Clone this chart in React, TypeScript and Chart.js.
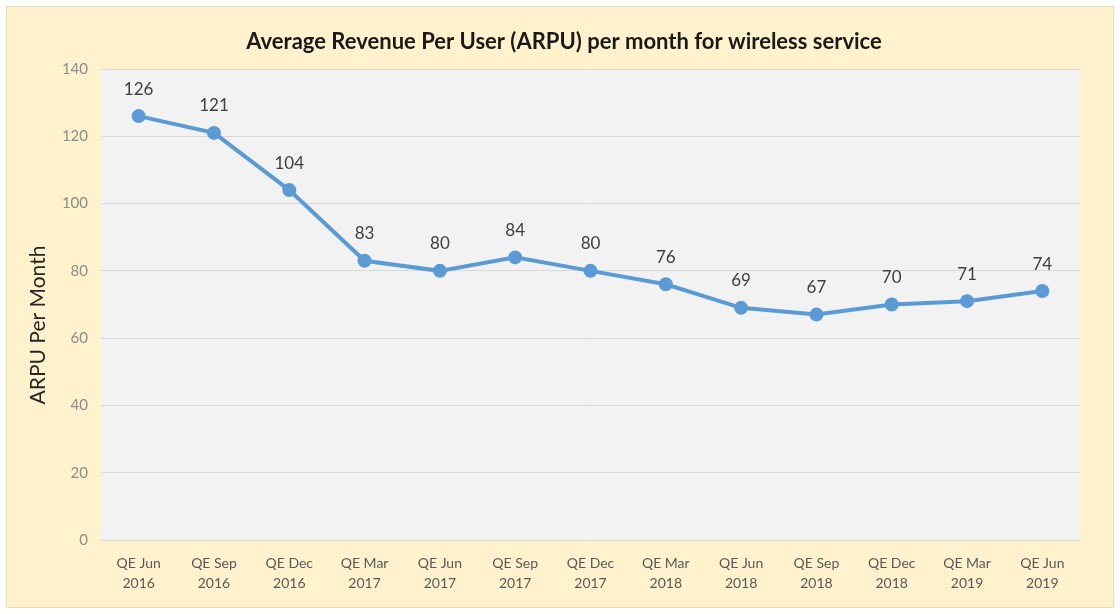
import React, { useEffect, useRef } from "react";
import { Chart, registerables } from "chart.js";

Chart.register(...registerables);

const quarters: string[][] = [
  ["QE Jun", "2016"], ["QE Sep", "2016"], ["QE Dec", "2016"], ["QE Mar", "2017"],
  ["QE Jun", "2017"], ["QE Sep", "2017"], ["QE Dec", "2017"], ["QE Mar", "2018"],
  ["QE Jun", "2018"], ["QE Sep", "2018"], ["QE Dec", "2018"], ["QE Mar", "2019"],
  ["QE Jun", "2019"],
];
const arpu: number[] = [126, 121, 104, 83, 80, 84, 80, 76, 69, 67, 70, 71, 74];
const chartTitle = "Average Revenue Per User (ARPU) per month for wireless service";
const yAxisTitle = "ARPU Per Month";

const FONT = "Lato, 'Noto Sans', sans-serif";

const backgroundPlugin = {
  id: "bgPlugin",
  beforeDraw(chart: any) {
    const { ctx, chartArea } = chart;
    ctx.save();
    ctx.fillStyle = "#ffffff";
    ctx.fillRect(0, 0, chart.width, chart.height);
    ctx.fillStyle = "#FFF2CC";
    ctx.fillRect(6, 6, chart.width - 12, chart.height - 12);
    ctx.strokeStyle = "#EADBB8";
    ctx.lineWidth = 1;
    ctx.strokeRect(6.5, 6.5, chart.width - 13, chart.height - 13);
    ctx.fillStyle = "#F2F2F2";
    ctx.fillRect(chartArea.left, chartArea.top, chartArea.right - chartArea.left, chartArea.bottom - chartArea.top);
    ctx.restore();
  },
  afterDraw(chart: any) {
    const { ctx } = chart;
    ctx.save();
    ctx.fillStyle = "#1a1a1a";
    ctx.font = `bold 22px ${FONT}`;
    ctx.textAlign = "center";
    ctx.textBaseline = "middle";
    ctx.fillText(chartTitle, 564, 42);
    ctx.translate(38, 325);
    ctx.rotate(-Math.PI / 2);
    ctx.fillStyle = "#262626";
    ctx.font = `21px ${FONT}`;
    ctx.fillText(yAxisTitle, 0, 0);
    ctx.restore();
  },
};

const labelPlugin = {
  id: "valueLabels",
  afterDatasetsDraw(chart: any) {
    const { ctx } = chart;
    const meta = chart.getDatasetMeta(0);
    ctx.save();
    ctx.font = `17px ${FONT}`;
    ctx.fillStyle = "#404040";
    ctx.textAlign = "center";
    ctx.textBaseline = "middle";
    meta.data.forEach((pt: any, i: number) => {
      ctx.fillText(String(arpu[i]), pt.x, pt.y - 27);
    });
    ctx.restore();
  },
};

export default function App() {
  const ref = useRef<HTMLCanvasElement | null>(null);
  useEffect(() => {
    if (!ref.current) return;
    const chart = new Chart(ref.current, {
      type: "line",
      data: {
        labels: quarters,
        datasets: [
          {
            data: arpu,
            borderColor: "#5B9BD5",
            backgroundColor: "#5B9BD5",
            borderWidth: 4,
            pointRadius: 5,
            pointBackgroundColor: "#5B9BD5",
            pointBorderColor: "#5B9BD5",
            tension: 0,
          },
        ],
      },
      options: {
        animation: false,
        responsive: false,
        maintainAspectRatio: false,
        layout: { padding: { left: 0, right: 40, top: 69, bottom: 0 } },
        plugins: {
          legend: { display: false },
          tooltip: { enabled: false },
          title: { display: false },
        },
        scales: {
          x: {
            offset: true,
            grid: { display: false, drawTicks: false },
            border: { display: false },
            ticks: {
              color: "#595959",
              font: { family: FONT, size: 14, lineHeight: "20px" },
              padding: 13,
              maxRotation: 0,
              autoSkip: false,
            },
            afterFit: (s: any) => { s.height = 74; },
          },
          y: {
            min: 0,
            max: 140,
            grid: { color: "#D9D9D9", lineWidth: 1, drawTicks: false },
            border: { display: false },
            ticks: {
              stepSize: 20,
              color: "#8C8C8C",
              font: { family: FONT, size: 15 },
              padding: 13,
            },
            title: { display: false },
            afterFit: (s: any) => { s.width = 101; },
          },
        },
      },
      plugins: [backgroundPlugin, labelPlugin],
    });
    return () => chart.destroy();
  }, []);
  return (
    <div style={{ position: "fixed", left: 0, top: 0, width: 1120, height: 614, background: "#fff" }}>
      <canvas ref={ref} width={1120} height={614} style={{ display: "block", width: 1120, height: 614 }} />
    </div>
  );
}
